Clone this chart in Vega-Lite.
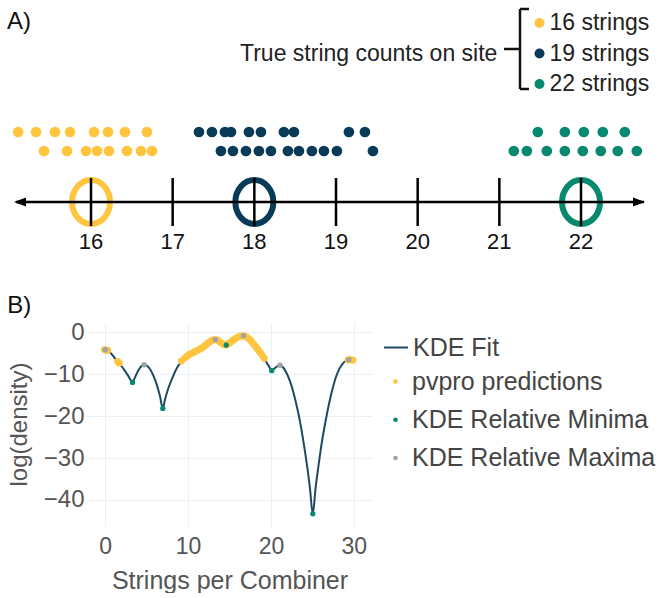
{
  "$schema": "https://vega.github.io/schema/vega-lite/v6.json",
  "padding": {"left": 7, "top": 0, "right": 0, "bottom": 0},
  "autosize": {"type": "pad"},
  "config": {
    "view": {"stroke": null},
    "font": "Liberation Sans",
    "title": {"fontWeight": "normal", "fontSize": 24, "color": "#111111"}
  },
  "datasets": {
    "dots": [
      {"site": "16 strings", "value": 15.107, "level": 2},
      {"site": "16 strings", "value": 15.327, "level": 2},
      {"site": "16 strings", "value": 15.559, "level": 2},
      {"site": "16 strings", "value": 15.743, "level": 2},
      {"site": "16 strings", "value": 16.037, "level": 2},
      {"site": "16 strings", "value": 16.208, "level": 2},
      {"site": "16 strings", "value": 16.416, "level": 2},
      {"site": "16 strings", "value": 16.685, "level": 2},
      {"site": "16 strings", "value": 15.425, "level": 1},
      {"site": "16 strings", "value": 15.706, "level": 1},
      {"site": "16 strings", "value": 15.939, "level": 1},
      {"site": "16 strings", "value": 16.073, "level": 1},
      {"site": "16 strings", "value": 16.22, "level": 1},
      {"site": "16 strings", "value": 16.441, "level": 1},
      {"site": "16 strings", "value": 16.612, "level": 1},
      {"site": "16 strings", "value": 16.747, "level": 1},
      {"site": "19 strings", "value": 17.322, "level": 2},
      {"site": "19 strings", "value": 17.481, "level": 2},
      {"site": "19 strings", "value": 17.64, "level": 2},
      {"site": "19 strings", "value": 17.714, "level": 2},
      {"site": "19 strings", "value": 17.934, "level": 2},
      {"site": "19 strings", "value": 18.081, "level": 2},
      {"site": "19 strings", "value": 18.362, "level": 2},
      {"site": "19 strings", "value": 18.485, "level": 2},
      {"site": "19 strings", "value": 19.158, "level": 2},
      {"site": "19 strings", "value": 19.354, "level": 2},
      {"site": "19 strings", "value": 17.591, "level": 1},
      {"site": "19 strings", "value": 17.738, "level": 1},
      {"site": "19 strings", "value": 17.897, "level": 1},
      {"site": "19 strings", "value": 18.056, "level": 1},
      {"site": "19 strings", "value": 18.203, "level": 1},
      {"site": "19 strings", "value": 18.411, "level": 1},
      {"site": "19 strings", "value": 18.546, "level": 1},
      {"site": "19 strings", "value": 18.705, "level": 1},
      {"site": "19 strings", "value": 18.852, "level": 1},
      {"site": "19 strings", "value": 19.011, "level": 1},
      {"site": "19 strings", "value": 19.452, "level": 1},
      {"site": "22 strings", "value": 21.471, "level": 2},
      {"site": "22 strings", "value": 21.802, "level": 2},
      {"site": "22 strings", "value": 22.034, "level": 2},
      {"site": "22 strings", "value": 22.267, "level": 2},
      {"site": "22 strings", "value": 22.536, "level": 2},
      {"site": "22 strings", "value": 21.177, "level": 1},
      {"site": "22 strings", "value": 21.337, "level": 1},
      {"site": "22 strings", "value": 21.581, "level": 1},
      {"site": "22 strings", "value": 21.802, "level": 1},
      {"site": "22 strings", "value": 22.022, "level": 1},
      {"site": "22 strings", "value": 22.242, "level": 1},
      {"site": "22 strings", "value": 22.45, "level": 1},
      {"site": "22 strings", "value": 22.683, "level": 1}
    ],
    "rings": [
      {"site": "16 strings", "center": 16},
      {"site": "19 strings", "center": 18},
      {"site": "22 strings", "center": 22}
    ],
    "ticks": [
      {"tick": 16, "label": "16"},
      {"tick": 17, "label": "17"},
      {"tick": 18, "label": "18"},
      {"tick": 19, "label": "19"},
      {"tick": 20, "label": "20"},
      {"tick": 21, "label": "21"},
      {"tick": 22, "label": "22"}
    ],
    "kde": [
      {"x": -0.25, "y": -4.3}, {"x": 0.0, "y": -4.2}, {"x": 0.4, "y": -4.5}, {"x": 0.8, "y": -5.3},
      {"x": 1.2, "y": -6.3}, {"x": 1.6, "y": -7.2}, {"x": 2.0, "y": -8.2}, {"x": 2.4, "y": -9.3},
      {"x": 2.8, "y": -10.5}, {"x": 3.1, "y": -11.5}, {"x": 3.3, "y": -12.0}, {"x": 3.5, "y": -11.2},
      {"x": 3.8, "y": -9.9}, {"x": 4.1, "y": -8.8}, {"x": 4.4, "y": -8.1}, {"x": 4.7, "y": -7.8},
      {"x": 5.0, "y": -8.0}, {"x": 5.4, "y": -8.8}, {"x": 5.8, "y": -10.3}, {"x": 6.2, "y": -12.4},
      {"x": 6.6, "y": -15.2}, {"x": 6.95, "y": -18.2}, {"x": 7.2, "y": -16.2}, {"x": 7.5, "y": -14.1},
      {"x": 7.9, "y": -11.9}, {"x": 8.3, "y": -10.0}, {"x": 8.7, "y": -8.4}, {"x": 9.1, "y": -7.2},
      {"x": 9.5, "y": -6.3}, {"x": 9.9, "y": -5.7}, {"x": 10.3, "y": -5.2}, {"x": 10.7, "y": -4.8},
      {"x": 11.1, "y": -4.4}, {"x": 11.5, "y": -4.0}, {"x": 11.9, "y": -3.4}, {"x": 12.3, "y": -2.8},
      {"x": 12.7, "y": -2.2}, {"x": 13.0, "y": -1.9}, {"x": 13.3, "y": -1.8}, {"x": 13.6, "y": -2.0},
      {"x": 14.0, "y": -2.6}, {"x": 14.3, "y": -3.0}, {"x": 14.6, "y": -3.1}, {"x": 14.9, "y": -2.8},
      {"x": 15.3, "y": -2.2}, {"x": 15.7, "y": -1.6}, {"x": 16.1, "y": -1.1}, {"x": 16.4, "y": -0.95},
      {"x": 16.7, "y": -0.9}, {"x": 17.0, "y": -1.1}, {"x": 17.4, "y": -1.7}, {"x": 17.8, "y": -2.6},
      {"x": 18.2, "y": -3.6}, {"x": 18.6, "y": -4.6}, {"x": 19.0, "y": -5.7}, {"x": 19.4, "y": -7.0},
      {"x": 19.8, "y": -8.3}, {"x": 20.1, "y": -9.2}, {"x": 20.4, "y": -8.7}, {"x": 20.8, "y": -8.1},
      {"x": 21.1, "y": -7.9}, {"x": 21.5, "y": -8.5}, {"x": 21.9, "y": -9.8}, {"x": 22.3, "y": -11.7},
      {"x": 22.7, "y": -14.3}, {"x": 23.1, "y": -17.5}, {"x": 23.5, "y": -21.2}, {"x": 23.9, "y": -25.8},
      {"x": 24.3, "y": -31.0}, {"x": 24.7, "y": -37.0}, {"x": 25.05, "y": -43.3}, {"x": 25.4, "y": -37.0},
      {"x": 25.8, "y": -31.0}, {"x": 26.2, "y": -25.6}, {"x": 26.6, "y": -21.2}, {"x": 27.0, "y": -17.2},
      {"x": 27.4, "y": -13.8}, {"x": 27.8, "y": -11.0}, {"x": 28.2, "y": -9.0}, {"x": 28.6, "y": -7.7},
      {"x": 29.0, "y": -6.9}, {"x": 29.4, "y": -6.6}, {"x": 29.8, "y": -6.65}, {"x": 30.2, "y": -6.8}
    ],
    "pvpro": [
      {"series": "pvpro predictions", "x": -0.1, "y": -4.2},
      {"series": "pvpro predictions", "x": 0.1, "y": -4.25},
      {"series": "pvpro predictions", "x": 0.3, "y": -4.4},
      {"series": "pvpro predictions", "x": 1.5, "y": -7.0},
      {"series": "pvpro predictions", "x": 1.7, "y": -7.4},
      {"series": "pvpro predictions", "x": 9.2, "y": -6.9},
      {"series": "pvpro predictions", "x": 9.6, "y": -6.2},
      {"series": "pvpro predictions", "x": 9.8, "y": -5.9},
      {"series": "pvpro predictions", "x": 10.0, "y": -5.6},
      {"series": "pvpro predictions", "x": 10.2, "y": -5.3},
      {"series": "pvpro predictions", "x": 10.4, "y": -5.1},
      {"series": "pvpro predictions", "x": 10.6, "y": -4.9},
      {"series": "pvpro predictions", "x": 10.8, "y": -4.7},
      {"series": "pvpro predictions", "x": 11.0, "y": -4.5},
      {"series": "pvpro predictions", "x": 11.2, "y": -4.3},
      {"series": "pvpro predictions", "x": 11.4, "y": -4.1},
      {"series": "pvpro predictions", "x": 11.6, "y": -3.9},
      {"series": "pvpro predictions", "x": 11.8, "y": -3.6},
      {"series": "pvpro predictions", "x": 12.0, "y": -3.3},
      {"series": "pvpro predictions", "x": 12.2, "y": -3.0},
      {"series": "pvpro predictions", "x": 12.4, "y": -2.6},
      {"series": "pvpro predictions", "x": 12.6, "y": -2.35},
      {"series": "pvpro predictions", "x": 12.8, "y": -2.1},
      {"series": "pvpro predictions", "x": 13.0, "y": -1.9},
      {"series": "pvpro predictions", "x": 13.2, "y": -1.8},
      {"series": "pvpro predictions", "x": 13.4, "y": -1.85},
      {"series": "pvpro predictions", "x": 13.6, "y": -2.0},
      {"series": "pvpro predictions", "x": 13.8, "y": -2.3},
      {"series": "pvpro predictions", "x": 14.0, "y": -2.6},
      {"series": "pvpro predictions", "x": 14.2, "y": -2.9},
      {"series": "pvpro predictions", "x": 14.4, "y": -3.05},
      {"series": "pvpro predictions", "x": 14.6, "y": -3.1},
      {"series": "pvpro predictions", "x": 14.8, "y": -2.9},
      {"series": "pvpro predictions", "x": 15.0, "y": -2.6},
      {"series": "pvpro predictions", "x": 15.2, "y": -2.3},
      {"series": "pvpro predictions", "x": 15.4, "y": -2.0},
      {"series": "pvpro predictions", "x": 15.6, "y": -1.7},
      {"series": "pvpro predictions", "x": 15.8, "y": -1.45},
      {"series": "pvpro predictions", "x": 16.0, "y": -1.2},
      {"series": "pvpro predictions", "x": 16.2, "y": -1.05},
      {"series": "pvpro predictions", "x": 16.4, "y": -0.95},
      {"series": "pvpro predictions", "x": 16.6, "y": -0.9},
      {"series": "pvpro predictions", "x": 16.8, "y": -0.92},
      {"series": "pvpro predictions", "x": 17.0, "y": -1.1},
      {"series": "pvpro predictions", "x": 17.2, "y": -1.4},
      {"series": "pvpro predictions", "x": 17.4, "y": -1.7},
      {"series": "pvpro predictions", "x": 17.6, "y": -2.1},
      {"series": "pvpro predictions", "x": 17.8, "y": -2.6},
      {"series": "pvpro predictions", "x": 18.0, "y": -3.1},
      {"series": "pvpro predictions", "x": 18.2, "y": -3.6},
      {"series": "pvpro predictions", "x": 18.4, "y": -4.1},
      {"series": "pvpro predictions", "x": 18.6, "y": -4.6},
      {"series": "pvpro predictions", "x": 18.8, "y": -5.1},
      {"series": "pvpro predictions", "x": 19.0, "y": -5.7},
      {"series": "pvpro predictions", "x": 19.2, "y": -6.3},
      {"series": "pvpro predictions", "x": 29.3, "y": -6.65},
      {"series": "pvpro predictions", "x": 29.5, "y": -6.6},
      {"series": "pvpro predictions", "x": 29.7, "y": -6.6},
      {"series": "pvpro predictions", "x": 29.9, "y": -6.7}
    ],
    "minima": [
      {"series": "KDE Relative Minima", "x": 3.3, "y": -12.0},
      {"series": "KDE Relative Minima", "x": 6.95, "y": -18.2},
      {"series": "KDE Relative Minima", "x": 14.6, "y": -3.1},
      {"series": "KDE Relative Minima", "x": 20.1, "y": -9.2},
      {"series": "KDE Relative Minima", "x": 25.05, "y": -43.3}
    ],
    "maxima": [
      {"series": "KDE Relative Maxima", "x": 0.0, "y": -4.2},
      {"series": "KDE Relative Maxima", "x": 4.7, "y": -7.8},
      {"series": "KDE Relative Maxima", "x": 13.3, "y": -1.8},
      {"series": "KDE Relative Maxima", "x": 16.7, "y": -0.9},
      {"series": "KDE Relative Maxima", "x": 21.1, "y": -7.9},
      {"series": "KDE Relative Maxima", "x": 29.4, "y": -6.6}
    ]
  },
  "spacing": 36,
  "resolve": {
    "scale": {"x": "independent", "y": "independent", "color": "independent", "stroke": "independent"},
    "legend": {"color": "independent", "stroke": "independent"}
  },
  "vconcat": [
    {
      "width": 576,
      "height": 258,
      "layer": [
        {
          "data": {"name": "dots"},
          "mark": {"type": "circle", "size": 115, "opacity": 1},
          "encoding": {
            "x": {"field": "value", "type": "quantitative", "scale": {"domain": [15.951, 23.0038], "nice": false, "zero": false}, "axis": null},
            "y": {"field": "level", "type": "quantitative", "scale": {"domain": [-4.632, 8.947], "nice": false, "zero": false}, "axis": null},
            "color": {
              "field": "site", "type": "nominal",
              "scale": {"domain": ["16 strings", "19 strings", "22 strings"], "range": ["#ffc53f", "#093a58", "#07896f"]},
              "legend": {
                "orient": "none", "legendX": 153, "legendY": 11.5,
                "title": "True string counts on site", "titleOrient": "left",
                "titleFontSize": 23, "titleFontWeight": "normal", "titleColor": "#222222",
                "titleAnchor": "middle", "titleBaseline": "middle", "titlePadding": 30, "titleLimit": 1000,
                "labelFontSize": 23, "labelColor": "#222222", "labelOffset": -1.5, "labelLimit": 1000,
                "symbolType": "circle", "symbolSize": 100, "symbolStrokeWidth": 0,
                "rowPadding": 6.5, "padding": 0
              }
            }
          }
        },
        {
          "data": {"name": "rings"},
          "mark": {"type": "point", "filled": false, "strokeWidth": 6, "opacity": 1, "size": 1936,
                   "shape": "M -0.8636 0 A 0.8636 1 0 1 1 0.8636 0 A 0.8636 1 0 1 1 -0.8636 0 Z"},
          "encoding": {
            "x": {"field": "center", "type": "quantitative"},
            "y": {"datum": -1.684, "type": "quantitative"},
            "color": {"field": "site", "type": "nominal", "legend": null}
          }
        },
        {
          "data": {"values": [{"part": "number line"}]},
          "mark": {"type": "rule", "strokeWidth": 2.5, "color": "#000000"},
          "encoding": {
            "x": {"datum": 15.08, "type": "quantitative"},
            "x2": {"datum": 22.77},
            "y": {"datum": -1.684, "type": "quantitative"}
          }
        },
        {
          "data": {"name": "ticks"},
          "mark": {"type": "rule", "strokeWidth": 2.5, "color": "#000000"},
          "encoding": {
            "x": {"field": "tick", "type": "quantitative"},
            "y": {"datum": -0.421, "type": "quantitative"},
            "y2": {"datum": -2.947}
          }
        },
        {
          "data": {"name": "ticks"},
          "mark": {"type": "text", "fontSize": 22, "baseline": "middle", "align": "center", "color": "#111111"},
          "encoding": {
            "x": {"field": "tick", "type": "quantitative"},
            "y": {"datum": -3.79, "type": "quantitative"},
            "text": {"field": "label"}
          }
        },
        {
          "data": {"values": [{"end": "left"}]},
          "mark": {"type": "point", "filled": true, "color": "#000000", "opacity": 1, "size": 144, "shape": "M -1 0 L 1 -0.75 L 1 0.75 Z"},
          "encoding": {
            "x": {"datum": 15.1306, "type": "quantitative"},
            "y": {"datum": -1.684, "type": "quantitative"}
          }
        },
        {
          "data": {"values": [{"end": "right"}]},
          "mark": {"type": "point", "filled": true, "color": "#000000", "opacity": 1, "size": 144, "shape": "M 1 0 L -1 -0.75 L -1 0.75 Z"},
          "encoding": {
            "x": {"datum": 22.71, "type": "quantitative"},
            "y": {"datum": -1.684, "type": "quantitative"}
          }
        },
        {
          "data": {"values": [{"part": "spine"}]},
          "mark": {"type": "rule", "strokeWidth": 2.5, "color": "#111111"},
          "encoding": {
            "x": {"datum": 21.2529, "type": "quantitative"},
            "y": {"datum": 8.4735, "type": "quantitative"},
            "y2": {"datum": 4.263}
          }
        },
        {
          "data": {"values": [{"part": "top hook"}]},
          "mark": {"type": "rule", "strokeWidth": 2.5, "color": "#111111"},
          "encoding": {
            "x": {"datum": 21.2529, "type": "quantitative"},
            "x2": {"datum": 21.3631},
            "y": {"datum": 8.4735, "type": "quantitative"}
          }
        },
        {
          "data": {"values": [{"part": "bottom hook"}]},
          "mark": {"type": "rule", "strokeWidth": 2.5, "color": "#111111"},
          "encoding": {
            "x": {"datum": 21.2529, "type": "quantitative"},
            "x2": {"datum": 21.3631},
            "y": {"datum": 4.263, "type": "quantitative"}
          }
        },
        {
          "data": {"values": [{"part": "mid"}]},
          "mark": {"type": "rule", "strokeWidth": 2.5, "color": "#111111"},
          "encoding": {
            "x": {"datum": 21.057, "type": "quantitative"},
            "x2": {"datum": 21.2529},
            "y": {"datum": 6.368, "type": "quantitative"}
          }
        },
        {
          "data": {"values": [{"label": "A)"}]},
          "mark": {"type": "text", "fontSize": 24, "align": "left", "baseline": "middle", "color": "#111111"},
          "encoding": {
            "x": {"datum": 14.9715, "type": "quantitative"},
            "y": {"datum": 7.789, "type": "quantitative"},
            "text": {"field": "label"}
          }
        }
      ]
    },
    {
      "width": 285,
      "height": 204,
      "title": {"text": "B)", "anchor": "start", "frame": "bounds", "offset": 2},
      "layer": [
        {
          "data": {"name": "kde"},
          "mark": {"type": "line", "strokeWidth": 2, "interpolate": "monotone"},
          "encoding": {
            "x": {
              "field": "x", "type": "quantitative",
              "scale": {"domain": [-2.2, 32.2], "nice": false, "zero": false},
              "axis": {
                "values": [0, 10, 20, 30], "title": "Strings per Combiner",
                "titleFontSize": 25, "titleFontWeight": "normal", "titleColor": "#555555", "titlePadding": 10,
                "labelFontSize": 23, "labelColor": "#555555", "labelPadding": 9,
                "ticks": false, "domain": false, "grid": true, "gridColor": "#ebf0f8", "gridWidth": 1
              }
            },
            "y": {
              "field": "y", "type": "quantitative",
              "scale": {"domain": [-46.2, 2.4], "nice": false, "zero": false},
              "axis": {
                "values": [0, -10, -20, -30, -40], "title": "log(density)",
                "labelExpr": "replace(datum.label, '-', '\u2212')",
                "titleFontSize": 24, "titleFontWeight": "normal", "titleColor": "#555555", "titlePadding": 12,
                "labelFontSize": 24, "labelColor": "#555555", "labelPadding": 3,
                "ticks": false, "domain": false, "grid": true, "gridColor": "#ebf0f8", "gridWidth": 1
              }
            },
            "stroke": {
              "datum": "KDE Fit", "type": "nominal",
              "scale": {"domain": ["KDE Fit"], "range": ["#1d4a63"]},
              "legend": {
                "orient": "none", "legendX": 296, "legendY": 12.5, "title": null,
                "labelFontSize": 25, "labelColor": "#444444", "labelOffset": 4, "labelLimit": 1000,
                "padding": 0, "symbolType": "stroke", "symbolSize": 576, "symbolStrokeWidth": 2
              }
            }
          }
        },
        {
          "data": {"name": "pvpro"},
          "mark": {"type": "circle", "size": 48, "opacity": 1},
          "encoding": {
            "x": {"field": "x", "type": "quantitative"},
            "y": {"field": "y", "type": "quantitative"},
            "color": {
              "field": "series", "type": "nominal",
              "scale": {
                "domain": ["pvpro predictions", "KDE Relative Minima", "KDE Relative Maxima"],
                "range": ["#ffc53f", "#07896f", "#a3a3a3"]
              },
              "legend": {
                "orient": "none", "legendX": 296, "legendY": 47, "title": null,
                "labelFontSize": 25, "labelColor": "#444444", "labelOffset": 4, "labelLimit": 1000,
                "rowPadding": 12.25, "padding": 0, "symbolType": "circle", "symbolSize": 22, "symbolStrokeWidth": 0
              }
            }
          }
        },
        {
          "data": {"name": "minima"},
          "mark": {"type": "circle", "size": 28, "opacity": 1},
          "encoding": {
            "x": {"field": "x", "type": "quantitative"},
            "y": {"field": "y", "type": "quantitative"},
            "color": {"field": "series", "type": "nominal"}
          }
        },
        {
          "data": {"name": "maxima"},
          "mark": {"type": "circle", "size": 30, "opacity": 1},
          "encoding": {
            "x": {"field": "x", "type": "quantitative"},
            "y": {"field": "y", "type": "quantitative"},
            "color": {"field": "series", "type": "nominal"}
          }
        }
      ]
    }
  ]
}
